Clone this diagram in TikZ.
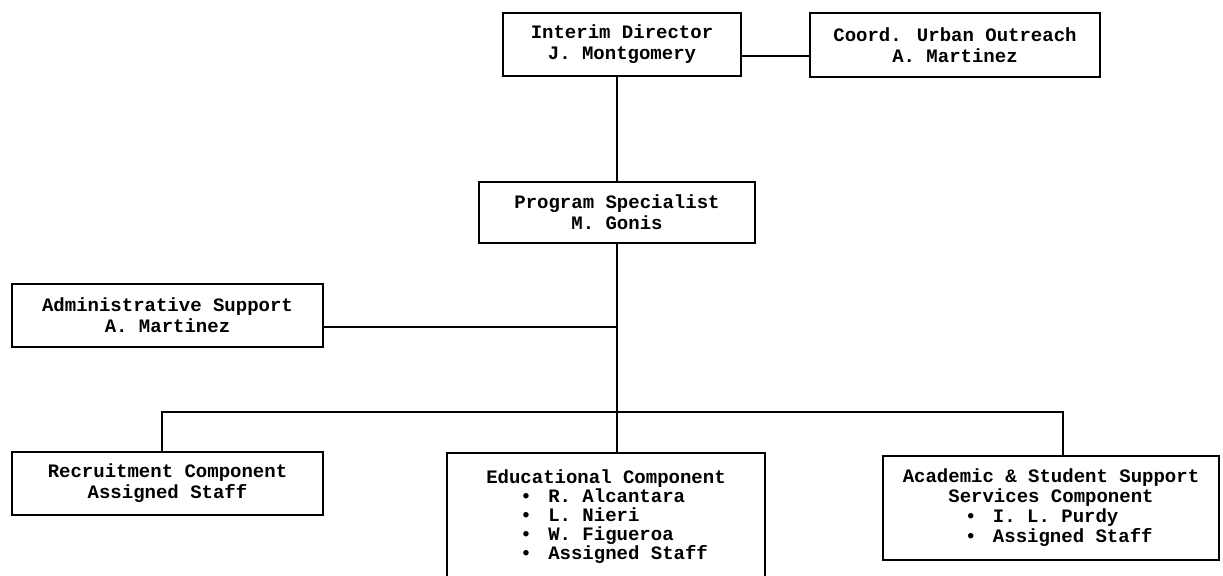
\documentclass[tikz,border=0pt]{standalone}
\usepackage{fontspec}
\setmainfont{Liberation Mono}
\usetikzlibrary{positioning}
\tikzstyle{box} = [rectangle, draw, line width=1pt, align=center, inner sep=0pt, font=\fontsize{9.5}{10.5}\selectfont\bfseries]
\tikzstyle{line} = [draw, line width=1pt]
\newcommand{\itm}[1]{\makebox[14pt][l]{•}#1}

\begin{document}
\begin{tikzpicture}[x=0.5pt, y=-0.5pt]
	\useasboundingbox (0,0) rectangle (1223,576);
	\node [box, minimum width=119pt, minimum height=31.5pt] (director) at (622,44.5) {Interim Director\\J. Montgomery};
	\node [box, minimum width=145pt, minimum height=32pt] (outreach) at (955,45) {Coord. Urban Outreach\\A. Martinez};
	\node [box, minimum width=138pt, minimum height=30.5pt] (specialist) at (617,212.5) {Program Specialist\\M. Gonis};
	\node [box, minimum width=155.5pt, minimum height=31.5pt] (admin) at (167.5,315.5) {Administrative Support\\A. Martinez};
	\node [box, minimum width=155.5pt, minimum height=31.5pt] (recruit) at (167.5,483.5) {Recruitment Component\\Assigned Staff};
	\node [box, minimum width=159pt, minimum height=63.5pt, align=left, font=\fontsize{9.5}{9.5}\selectfont\bfseries] (edu) at (606,516.5)
		{Educational Component\\ \hspace*{17pt}\itm{R. Alcantara}\\ \hspace*{17pt}\itm{L. Nieri}\\ \hspace*{17pt}\itm{W. Figueroa}\\ \hspace*{17pt}\itm{Assigned Staff}};
	\node [box, minimum width=168pt, minimum height=52pt, font=\fontsize{9.5}{10}\selectfont\bfseries] (support) at (1051,508)
		{Academic \& Student Support\\Services Component\\ \makebox[86pt][l]{\itm{I. L. Purdy}}\\ \makebox[86pt][l]{\itm{Assigned Staff}}};

	\coordinate (dirout) at ([yshift=-5.75pt]director.east);
	\coordinate (adminout) at ([yshift=-5.75pt]admin.east);
	\coordinate (busL) at (162,412);
	\coordinate (busR) at (1063,412);

	\path[line] (dirout) -- (dirout -| outreach.west);
	\path[line] (director.south -| specialist.north) -- (specialist.north);
	\path[line] (specialist.south) -- (specialist.south |- edu.north);
	\path[line] (adminout) -- (adminout -| specialist.south);
	\path[line] (busL |- recruit.north) -- (busL) -- (busR) -- (busR |- support.north);
\end{tikzpicture}
\end{document}
